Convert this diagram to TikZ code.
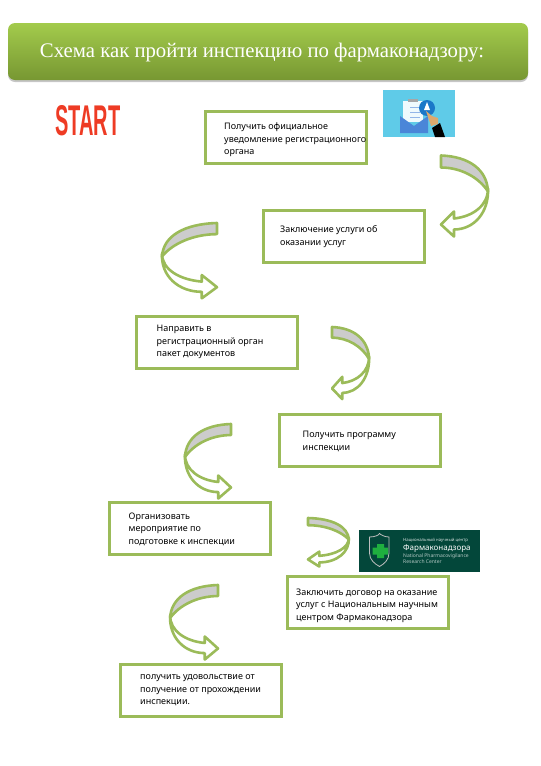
\documentclass[tikz,border=0pt]{standalone}
\usepackage{fontspec}
\setmainfont{Liberation Serif}
\setsansfont{Noto Sans}
\newfontfamily\startfont{Liberation Sans}
\usepackage{xcolor}
\usetikzlibrary{arrows.meta, positioning, shadows}
\definecolor{leaf}{HTML}{9BBB59}
\definecolor{leafTop}{HTML}{A3CB4C}
\definecolor{leafLow}{HTML}{779732}
\definecolor{startRed}{HTML}{EE3B24}
\definecolor{skyIcon}{HTML}{5FCBE8}
\definecolor{mailBlue}{HTML}{4A86D8}
\definecolor{bellBlue}{HTML}{1B78C8}
\definecolor{handTan}{HTML}{DDA96E}
\definecolor{logoGreen}{HTML}{03473A}
\definecolor{crossGreen}{HTML}{1FAF3F}

\begin{document}
\begin{tikzpicture}[
  x=1pt, y=-1pt,
  font=\sffamily\fontsize{9}{12.6}\selectfont,
  stepbox/.style={draw=leaf, line width=3pt, fill=white, minimum width=161pt, minimum height=52pt, inner sep=0pt},
  txt/.style={align=left, inner sep=0pt, text=black},
  ttl/.style={rounded corners=7pt, top color=leafTop, bottom color=leafLow, minimum width=520pt, minimum height=57pt,
              inner sep=0pt, drop shadow={shadow xshift=0pt, shadow yshift=-2pt, opacity=.45}},
  ttltxt/.style={inner sep=0pt, text=white, font=\rmfamily\fontsize{20.75}{24}\selectfont},
  logotxt/.style={align=left, inner sep=0pt, text=white},
  swoop/.pic={
    \draw[draw=leaf, line width=2.6pt, line join=round, fill=white]
      (47,33) .. controls (47,50) and (32,61) .. (13,63) -- (13,56) -- (0,69) -- (13,81) -- (13,74)
      .. controls (33,74) and (48,57) .. (47,33) -- cycle;
    \draw[draw=leaf, line width=2.6pt, line join=round, fill=black!20]
      (0,0) .. controls (28,1) and (46,14) .. (47,36) .. controls (38,22) and (20,12) .. (0,12) -- cycle;
  }
]
\useasboundingbox (0,0) rectangle (541,766);

% ================================================= title and start mark
\node[ttl] (title) at (268,51.5) {};
\node[ttltxt] (titletext) at (262,53) {Схема как пройти инспекцию по фармаконадзору:};
\node[inner sep=0pt, text=startRed, xscale=.465, font=\startfont\bfseries\fontsize{43}{43}\selectfont] (start) at (88,120.5) {START};

% ================================================= steps
\node[stepbox] (s1) at (286,137) {};
\node[stepbox] (s2) at (344,236.5) {};
\node[stepbox] (s3) at (216.5,342) {};
\node[stepbox] (s4) at (359.5,440) {};
\node[stepbox] (s5) at (189.5,528) {};
\node[stepbox] (s6) at (368,602.5) {};
\node[stepbox] (s7) at (201,690.5) {};

\node[txt, right=20pt of s1.west, yshift=-3pt] (t1) {Получить официальное\\уведомление регистрационного\\органа};
\node[txt, right=18pt of s2.west] (t2) {Заключение услуги об\\оказании услуг};
\node[txt, right=22pt of s3.west] (t3) {Направить в\\регистрационный орган\\пакет документов};
\node[txt, right=25pt of s4.west, yshift=-1.5pt] (t4) {Получить программу\\инспекции};
\node[txt, right=21pt of s5.west, yshift=-1pt] (t5) {Организовать\\мероприятие по\\подготовке к инспекции};
\node[txt, right=10pt of s6.west, yshift=-3pt] (t6) {Заключить договор на оказание\\услуг с Национальным научным\\центром Фармаконадзора};
\node[txt, right=21pt of s7.west] (t7) {получить удовольствие от\\получение от прохождении\\инспекции.};

% ================================================= curved arrows
\pic at (441,155.5) {swoop};
\pic[xscale=-1.17, yscale=.93] at (217,223) {swoop};
\pic[xscale=.79, yscale=.89] at (332,327) {swoop};
\pic[xscale=-.98, yscale=.92] at (231,424) {swoop};
\pic[xscale=.87, yscale=.6] at (308,518) {swoop};
\pic[xscale=-1.02, yscale=.92] at (218,585) {swoop};

% ================================================= mail icon
\fill[skyIcon] (383,90) rectangle (455,137);
\fill[white!90!skyIcon] (403,101) rectangle (423,122);
\fill[black!35] (408,99) rectangle (418,102);
\draw[mailBlue!60, line width=1pt] (410,107) -- (420,107) (410,112) -- (420,112) (410,117) -- (420,117);
\fill[mailBlue] (400,116) -- (414,126) -- (428,116) -- (428,133) -- (400,133) -- cycle;
\fill[bellBlue] (427,108) circle (8);
\fill[white] (427,102) -- (430,110) -- (424,110) -- cycle;
\fill[handTan] (426,111) -- (432,116) -- (438,118) -- (438,124) -- (431,126) -- cycle;
\fill[black] (432,128) -- (440,123) -- (445,137) -- (435,137) -- cycle;

% ================================================= logo
\fill[logoGreen] (359,530) rectangle (480,572);
\draw[black!25!white, line width=.8pt, fill=logoGreen]
  (369.5,537) .. controls (375,537) and (379,535) .. (379.5,533.5) .. controls (381,535) and (385,537) .. (389,537)
  -- (389,553) .. controls (389,560) and (384,564) .. (379.5,566.5) .. controls (375,564) and (369.5,560) .. (369.5,553) -- cycle;
\fill[crossGreen] (377,544) rectangle (384,558) (372.5,547.5) rectangle (388,554.5);
\node[logotxt, anchor=west, font=\sffamily\fontsize{4.3}{5}\selectfont, text=white!85!logoGreen] (l1) at (403,540) {Национальный научный центр};
\node[logotxt, anchor=west, font=\sffamily\fontsize{8}{9}\selectfont] (l2) at (403,548.5) {Фармаконадзора};
\node[logotxt, anchor=west, font=\sffamily\fontsize{5}{4.6}\selectfont, text=white!70!logoGreen] (l3) at (403,559) {National Pharmacovigilance\\Research Center};

\end{tikzpicture}
\end{document}
